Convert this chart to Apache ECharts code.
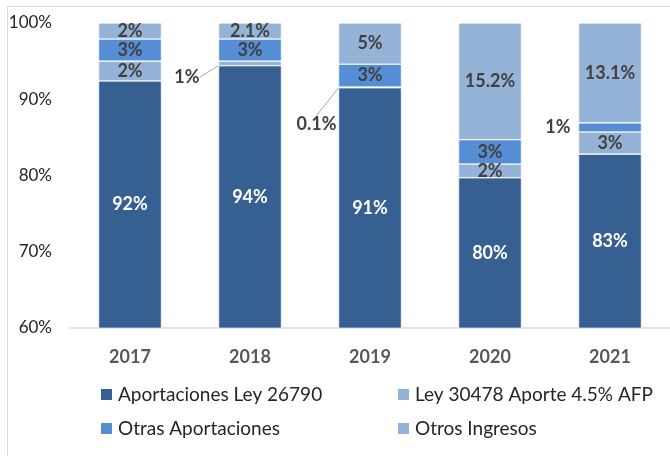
<!DOCTYPE html>
<html>
<head>
<meta charset="utf-8">
<script src="https://cdn.jsdelivr.net/npm/echarts@6/dist/echarts.min.js"></script>
<style>
  html, body { margin: 0; padding: 0; background: #fff; }
  #main { width: 670px; height: 456px; }
</style>
</head>
<body>
<div id="main"></div>
<script>
var years = ['2017', '2018', '2019', '2020', '2021']
var yTicks = [60, 70, 80, 90, 100]

// porcentajes de cada componente (suman 100 por año)
var aportLey26790 = [92.4, 94.4, 91.5, 79.7, 82.8]
var ley30478 = [2.6, 0.6, 0.1, 1.8, 2.9]
var otrasAport = [2.9, 2.9, 3.0, 3.2, 1.2]
var otrosIngresos = [2.1, 2.1, 5.4, 15.3, 13.1]

// textos de las etiquetas tal como aparecen
var lblAport = ['92%', '94%', '91%', '80%', '83%']
var lblLey = ['2%', '1%', '0.1%', '2%', '3%']
var lblOtras = ['3%', '3%', '3%', '3%', '1%']
var lblOtros = ['2%', '2.1%', '5%', '15.2%', '13.1%']

var FONT = 'Lato'
var dark = '#376092'
var mid = '#558ED5'
var light = '#95B3D7'
var txt = '#404040'

function items(vals, labels, extra) {
  return vals.map(function (v, i) {
    var it = { value: v, label: { formatter: labels[i] } }
    if (extra && extra[i]) Object.assign(it.label, extra[i])
    return it
  })
}

var baseLabel = {
  show: true,
  position: 'inside',
  fontFamily: FONT,
  fontWeight: 'bold',
  fontSize: 18,
  color: txt
}

var legendStyle = {
  top: 380, orient: 'vertical', itemGap: 15,
  itemWidth: 13, itemHeight: 13,
  icon: 'rect',
  textStyle: { fontFamily: FONT, fontSize: 19, color: '#262626' }
}

var chart = echarts.init(document.getElementById('main'))
chart.setOption({
  animation: false,
  textStyle: { fontFamily: FONT },
  graphic: [{
    type: 'rect',
    shape: { x: 7.5, y: 6.5, width: 700, height: 500 },
    style: { fill: 'none', stroke: '#D9D9D9', lineWidth: 1 },
    silent: true
  }],
  grid: { left: 70, top: 23, width: 600, height: 305 },
  legend: [
    Object.assign({ left: 94, data: ['Aportaciones Ley 26790', 'Otras Aportaciones'] }, legendStyle),
    Object.assign({ left: 391, data: ['Ley 30478 Aporte 4.5% AFP', 'Otros Ingresos'] }, legendStyle)
  ],
  xAxis: {
    type: 'category',
    data: years,
    axisTick: { show: false },
    axisLine: { lineStyle: { color: '#D9D9D9', width: 1.5 } },
    axisLabel: { fontFamily: FONT, fontWeight: 'bold', fontSize: 18, color: '#595959', margin: 20 }
  },
  yAxis: {
    type: 'value',
    min: yTicks[0],
    max: yTicks[yTicks.length - 1],
    interval: 10,
    splitLine: { show: false },
    axisLine: { show: false },
    axisTick: { show: false },
    axisLabel: { formatter: '{value}%', fontFamily: FONT, fontSize: 17, color: '#262626', margin: 18 }
  },
  series: [{
    name: 'Aportaciones Ley 26790',
    type: 'bar', stack: 'total', barWidth: '52.5%',
    itemStyle: { color: dark, borderColor: '#fff', borderWidth: 0.6 },
    label: Object.assign({}, baseLabel, { color: '#fff' }),
    data: items(aportLey26790, lblAport)
  }, {
    name: 'Ley 30478 Aporte 4.5% AFP',
    type: 'bar', stack: 'total',
    itemStyle: { color: light, borderColor: '#fff', borderWidth: 0.6 },
    label: baseLabel,
    labelLine: { show: true, lineStyle: { color: '#A6A6A6', width: 1 } },
    labelLayout: function (p) {
      if (p.dataIndex === 1) return { dy: 14 }
      if (p.dataIndex === 2) return { dy: 37 }
      return {}
    },
    data: items(ley30478, lblLey, {
      1: { position: 'left', distance: 19 },
      2: { position: 'left', distance: 2 }
    })
  }, {
    name: 'Otras Aportaciones',
    type: 'bar', stack: 'total',
    itemStyle: { color: mid, borderColor: '#fff', borderWidth: 0.6 },
    label: baseLabel,
    data: items(otrasAport, lblOtras, {
      4: { position: 'left', distance: 8 }
    })
  }, {
    name: 'Otros Ingresos',
    type: 'bar', stack: 'total',
    itemStyle: { color: light, borderColor: '#fff', borderWidth: 0.6 },
    label: baseLabel,
    data: items(otrosIngresos, lblOtros)
  }]
})
</script>
</body>
</html>
